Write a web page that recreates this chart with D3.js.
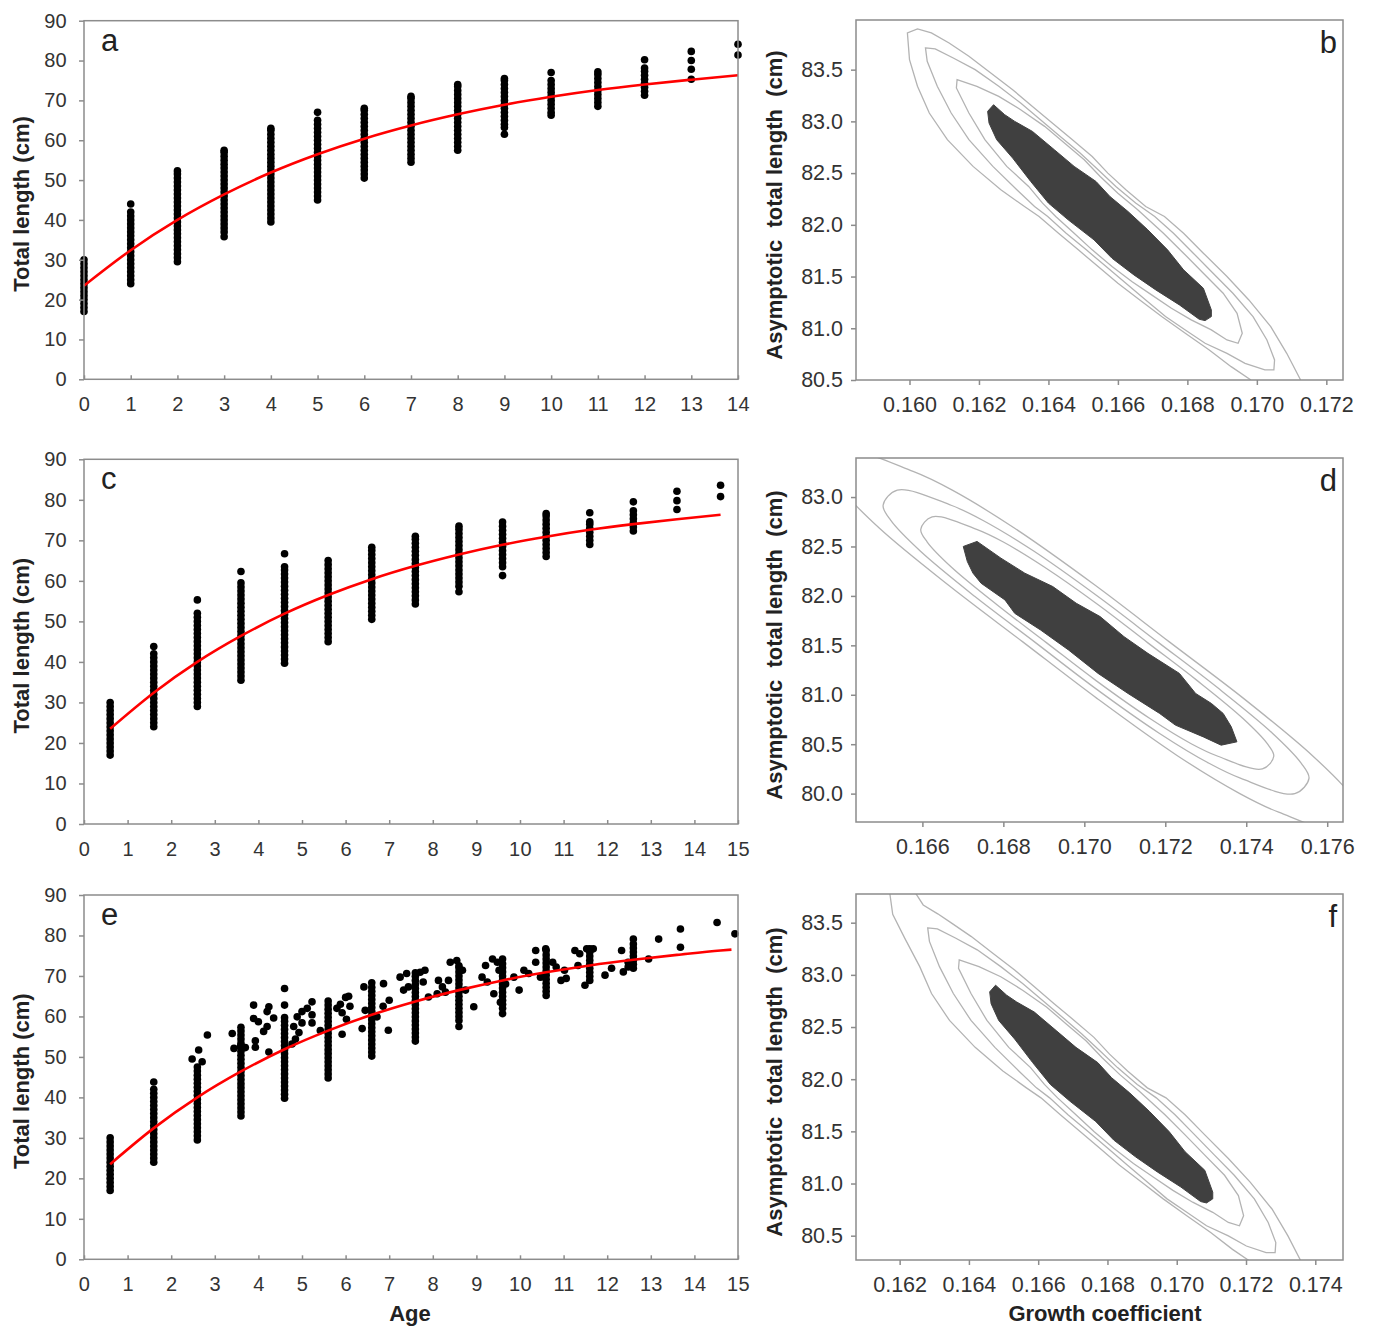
<!doctype html>
<html>
<head>
<meta charset="utf-8">
<title>growth curves and contours</title>
<script src="https://d3js.org/d3.v7.min.js"></script>
<style>
  body { margin:0; background:#fff; }
  svg { font-family:"Liberation Sans", Arial, sans-serif; }
  .frame { fill:none; stroke:#8c8c8c; stroke-width:1.5px; }
  .ax .domain { stroke:none; }
  .ax line { stroke:#8c8c8c; stroke-width:1.5px; }
  .axL text { font-size:20px; fill:#333; letter-spacing:0.3px; }
  .axR text { font-size:21.5px; fill:#333; }
  .title { font-size:22px; font-weight:bold; fill:#222; }
  .letter { font-size:31px; fill:#222; }
  .fit { fill:none; stroke:#f00; stroke-width:2.6px; }
  .cline { fill:none; stroke:#b3b3b3; stroke-width:1.3px; }
  .cfill { fill:#404040; stroke:#404040; stroke-width:1px; }
</style>
</head>
<body>
<svg id="fig" width="1373" height="1329"></svg>
<script>
// ---------- data: growth panels ----------
// lengths (cm) observed at each age column
var agesA = [0,1,2,3,4,5,6,7,8,9,10,11,12,13,14];
var lensA = [
  [17,18,19,20,21,22,23,24,25,26,27,28,29,30],
  [24,25,26,27,28,29,30,31,32,33,34,35,36,37,38,39,40,41,42,44],
  [29.5,30.5,31.5,32.5,33.5,34.5,35.5,36.5,37.5,38.5,39.5,40.5,41.5,42.5,43.5,44.5,45.5,46.5,47.5,48.5,49.5,50.5,51.5,52.3],
  [35.8,37,38,39,40,41,42,43,44,45,46,47,48,49,50,51,52,53,54,55,56,57,57.5],
  [39.5,40.5,41.5,42.5,43.5,44.5,45.5,46.5,47.5,48.5,49.5,50.5,51.5,52.5,53.5,54.5,55.5,56.5,57.5,58.5,59.5,60.5,61.5,62.5,63],
  [45,46,47,48,49,50,51,52,53,54,55,56,57,58,59,60,61,62,63,64,65,67],
  [50.5,51.5,52.5,53.5,54.5,55.5,56.5,57.5,58.5,59.5,60.5,61.5,62.5,63.5,64.5,65.5,66.5,67.5,68],
  [54.5,55.5,56.5,57.5,58.5,59.5,60.5,61.5,62.5,63.5,64.5,65.5,66.5,67.5,68.5,69.5,70.5,71],
  [57.5,58.5,59.5,60.5,61.5,62.5,63.5,64.5,65.5,66.5,67.5,68.5,69.5,70.5,71.5,72.5,73.5,74],
  [61.5,63.2,64,65,66,67,68,69,70,71,72,73,74,75,75.5],
  [66.3,67,68,69,70,71,72,73,74,75,77],
  [68.5,69.5,70.5,71.5,72.5,73.5,74.5,75.5,76.5,77.2],
  [71.3,72.3,73.3,74.3,75.3,76.3,77.3,78.1,80.2],
  [75.3,77.8,80,82.3],
  [81.4,84.1]
];
var agesC = [0.6,1.6,2.6,3.6,4.6,5.6,6.6,7.6,8.6,9.6,10.6,11.6,12.6,13.6,14.6];
var lensC = [
  [17,18,19,20,21,22,23,24,25,26,27,28,29,30],
  [24,25,26,27,28,29,30,31,32,33,34,35,36,37,38,39,40,41,42,43.8],
  [29,30,31,32,33,34,35,36,37,38,39,40,41,42,43,44,45,46,47,48,49,50,51,52,55.3],
  [35.5,36.5,37.5,38.5,39.5,40.5,41.5,42.5,43.5,44.5,45.5,46.5,47.5,48.5,49.5,50.5,51.5,52.5,53.5,54.5,55.5,56.5,57.5,58.5,59.5,62.3],
  [39.7,40.7,41.7,42.7,43.7,44.7,45.7,46.7,47.7,48.7,49.7,50.7,51.7,52.7,53.7,54.7,55.7,56.7,57.7,58.7,59.7,60.7,61.7,62.7,63.5,66.7],
  [45,46,47,48,49,50,51,52,53,54,55,56,57,58,59,60,61,62,63,64,65],
  [50.5,51.5,52.5,53.5,54.5,55.5,56.5,57.5,58.5,59.5,60.5,61.5,62.5,63.5,64.5,65.5,66.5,67.5,68.3],
  [54.3,55.3,56.3,57.3,58.3,59.3,60.3,61.3,62.3,63.3,64.3,65.3,66.3,67.3,68.3,69.3,70.3,71],
  [57.3,58.7,59.7,60.7,61.7,62.7,63.7,64.7,65.7,66.7,67.7,68.7,69.7,70.7,71.7,72.7,73.5],
  [61.3,63.5,64.5,65.5,66.5,67.5,68.5,69.5,70.5,71.5,72.5,73.5,74.5],
  [66,67,68,69,70,71,72,73,74,75,76,76.6],
  [69,70,71,72,73,74,74.6,76.8],
  [72.3,73.3,74.3,75.3,76.3,77.3,79.5],
  [77.6,79.8,82.1],
  [80.8,83.6]
];
var agesE = [0.6,1.6,2.6,3.6,4.6,5.6,6.6,7.6,8.6,9.6,10.6,11.6,12.6];
var lensE = [
  [17,18,19,20,21,22,23,24,25,26,27,28,29,30],
  [24,25,26,27,28,29,30,31,32,33,34,35,36,37,38,39,40,41,42,43.8],
  [29.5,30.5,31.5,32.5,33.5,34.5,35.5,36.5,37.5,38.5,39.5,40.5,41.5,42.5,43.5,44.5,45.5,46.5,47.5],
  [35.4,36.4,37.4,38.4,39.4,40.4,41.4,42.4,43.4,44.4,45.4,46.4,47.4,48.4,49.4,50.4,51.4,52.4,53.4,54.4,55.4,56.4,57.3],
  [39.8,40.8,41.8,42.8,43.8,44.8,45.8,46.8,47.8,48.8,49.8,50.8,51.8,52.8,53.8,54.8,55.8,56.8,57.8,58.8,59.7,62.8,66.9],
  [44.8,45.8,46.8,47.8,48.8,49.8,50.8,51.8,52.8,53.8,54.8,55.8,56.8,57.8,58.8,59.8,60.8,61.8,62.8,63.8],
  [50.2,51.2,52.2,53.2,54.2,55.2,56.2,57.2,58.2,59.2,60.2,61.2,62.2,63.2,64.2,65.2,66.2,67.2,68.3],
  [53.9,54.9,55.9,56.9,57.9,58.9,59.9,60.9,61.9,62.9,63.9,64.9,65.9,66.9,67.9,68.9,69.9,70.8],
  [57.5,59,60,61,62,63,64,65,66,67,68,69,70,71,72,72.5],
  [60.7,62,63,64,65,66,67,68,69,70,71,72,73,74.2],
  [65.2,66.2,67.2,68.2,69.2,70.2,71.2,72.2,73.2,74.2,75.2,76.3],
  [68.9,69.9,70.9,71.9,72.9,73.9,74.9,75.9,76.7],
  [71.9,72.9,73.9,74.9,75.9,76.9,77.9,79.1]
];
// scattered observations in panel e: [age, length]
var scatterE = [
  [2.48,49.5],[2.63,51.7],[2.71,48.8],[2.83,55.4],
  [3.40,55.8],[3.44,52.1],[3.59,52.6],[3.70,52.3],
  [3.89,62.8],[3.89,59.5],[4.00,58.7],[3.93,54.0],[3.93,52.4],[4.20,61.2],[4.24,62.4],[4.35,59.6],[4.20,57.5],[4.24,51.2],[4.12,56.3],
  [4.81,57.5],[4.89,59.9],[5.00,61.2],[5.12,62.0],[5.23,63.6],[5.23,60.4],[5.23,58.4],[5.00,58.4],[4.93,56.0],[4.85,54.4],[4.77,53.2],[5.42,56.5],
  [5.80,62.0],[5.88,63.0],[6.00,64.7],[6.07,65.0],[5.92,60.9],[5.92,55.6],[6.02,59.3],[6.10,62.5],
  [6.42,67.3],[6.38,57.0],[6.45,61.5],[6.72,59.9],
  [6.87,68.1],[6.98,56.6],[6.86,62.5],[7.00,64.0],
  [7.25,69.7],[7.33,66.5],[7.40,70.6],[7.71,70.9],[7.82,71.4],[7.78,68.5],[7.90,64.8],[8.13,68.9],[8.10,65.6],[8.29,66.0],[8.36,68.9],[8.40,73.4],[8.22,67.3],[7.44,67.3],
  [8.75,66.5],[8.94,62.4],[8.68,71.4],[8.55,73.8],
  [9.13,69.7],[9.25,68.5],[9.21,72.6],[9.37,74.2],[9.48,73.4],[9.52,71.4],[9.40,65.6],[9.55,63.5],
  [9.67,68.0],[9.86,69.7],[9.98,66.5],[10.09,71.4],[10.20,70.6],[10.36,76.3],[10.36,73.4],[10.59,76.7],[10.47,69.7],
  [10.75,73.4],[10.83,72.2],[10.94,68.9],[11.02,71.4],[11.06,69.4],
  [11.26,76.3],[11.37,75.5],[11.53,76.7],[11.68,76.7],[11.49,67.7],[11.33,72.6],
  [11.95,70.2],[12.10,71.9],[12.33,76.3],[12.37,71.0],[12.48,73.4],[12.48,72.2],
  [12.95,74.2],[13.18,79.1],[13.68,81.6],[13.68,77.1],[14.52,83.2],[14.93,80.4]
];
// fitted growth curve
var fitAgesA = [0,1,2,3,4,5,6,7,8,9,10,11,12,13,14];
var fitAgesC = [0.6,1.6,2.6,3.6,4.6,5.6,6.6,7.6,8.6,9.6,10.6,11.6,12.6,13.6,14.6];
var fitAgesE = [0.6,1.6,2.6,3.6,4.6,5.6,6.6,7.6,8.6,9.6,10.6,11.6,12.6,13.6,14.6,14.85];
var fitLens  = [23.5,32.4,40.0,46.4,51.9,56.5,60.4,63.7,66.5,68.9,70.9,72.6,74.0,75.2,76.3,76.5];

// ---------- data: contour panels [growth coefficient, asymptotic length] ----------
var xTicksB = [0.160,0.162,0.164,0.166,0.168,0.170,0.172];
var yTicksB = [80.5,81.0,81.5,82.0,82.5,83.0,83.5];
var xTicksD = [0.166,0.168,0.170,0.172,0.174,0.176];
var yTicksD = [80.0,80.5,81.0,81.5,82.0,82.5,83.0];
var xTicksF = [0.162,0.164,0.166,0.168,0.170,0.172,0.174];
var yTicksF = [80.5,81.0,81.5,82.0,82.5,83.0,83.5];

var fillB = [[.16242,83.161],[.16274,83.065],[.16303,83.000],[.16354,82.903],[.16417,82.726],[.16474,82.565],[.16537,82.419],[.16577,82.274],[.16629,82.129],[.16686,81.952],[.16743,81.758],[.16789,81.565],[.16846,81.387],[.16869,81.177],[.16869,81.113],[.16851,81.074],[.16834,81.087],[.16777,81.226],[.16709,81.371],[.16646,81.516],[.16583,81.677],[.16531,81.855],[.16457,82.048],[.16400,82.210],[.16349,82.419],[.16297,82.645],[.16251,82.823],[.16229,82.984],[.16225,83.097]];
var innerB = [[.16137,83.403],[.16194,83.339],[.16257,83.242],[.16320,83.113],[.16389,82.952],[.16446,82.790],[.16503,82.629],[.16549,82.468],[.16600,82.306],[.16657,82.145],[.16731,81.919],[.16789,81.726],[.16846,81.532],[.16903,81.339],[.16943,81.145],[.16958,80.952],[.16946,80.855],[.16914,80.887],[.16869,80.984],[.16811,81.081],[.16754,81.194],[.16697,81.323],[.16640,81.452],[.16583,81.597],[.16526,81.758],[.16474,81.919],[.16421,82.081],[.16383,82.210],[.16343,82.371],[.16280,82.565],[.16217,82.823],[.16171,83.081],[.16135,83.323]];
var midB = [[.16046,83.710],[.16074,83.700],[.16126,83.613],[.16189,83.500],[.16257,83.339],[.16320,83.177],[.16377,83.016],[.16434,82.855],[.16491,82.694],[.16543,82.532],[.16594,82.371],[.16651,82.210],[.16706,82.081],[.16760,81.919],[.16817,81.726],[.16874,81.532],[.16931,81.339],[.16989,81.113],[.17029,80.887],[.17051,80.694],[.17049,80.597],[.17023,80.597],[.16966,80.661],[.16914,80.758],[.16851,80.855],[.16794,80.984],[.16737,81.113],[.16680,81.274],[.16623,81.435],[.16566,81.597],[.16509,81.758],[.16451,81.919],[.16398,82.081],[.16360,82.177],[.16309,82.339],[.16240,82.565],[.16171,82.823],[.16120,83.081],[.16080,83.339],[.16051,83.581]];
var outerB = [[.16983,80.500],[.16926,80.629],[.16863,80.790],[.16794,80.952],[.16726,81.113],[.16663,81.274],[.16600,81.435],[.16543,81.597],[.16486,81.758],[.16429,81.919],[.16373,82.081],[.16331,82.177],[.16263,82.339],[.16183,82.565],[.16109,82.823],[.16057,83.081],[.16023,83.339],[.16000,83.597],[.15994,83.855],[.16023,83.894],[.16063,83.855],[.16114,83.758],[.16171,83.629],[.16234,83.468],[.16297,83.306],[.16354,83.145],[.16411,82.984],[.16469,82.823],[.16526,82.661],[.16571,82.500],[.16623,82.339],[.16680,82.177],[.16734,82.081],[.16789,81.919],[.16846,81.726],[.16914,81.500],[.16977,81.274],[.17040,81.016],[.17086,80.758],[.17126,80.500]];

var fillD = [[.16735,82.551],[.16794,82.382],[.16853,82.230],[.16922,82.095],[.16980,81.926],[.17039,81.791],[.17098,81.588],[.17157,81.419],[.17235,81.216],[.17275,81.013],[.17314,80.912],[.17343,80.811],[.17363,80.676],[.17377,80.524],[.17338,80.490],[.17294,80.574],[.17225,80.693],[.17186,80.811],[.17108,81.013],[.17034,81.216],[.16961,81.453],[.16892,81.655],[.16828,81.824],[.16804,81.959],[.16745,82.128],[.16725,82.230],[.16711,82.348],[.16701,82.500]];
var innerD = [[.16624,82.800],[.16734,82.673],[.16800,82.545],[.16902,82.290],[.17035,81.908],[.17157,81.525],[.17279,81.143],[.17392,80.760],[.17452,80.505],[.17468,80.378],[.17440,80.250],[.17330,80.378],[.17264,80.505],[.17162,80.760],[.17029,81.143],[.16907,81.525],[.16785,81.908],[.16672,82.290],[.16612,82.545],[.16596,82.673]];
var midD = [[.16538,83.070],[.16671,82.917],[.16750,82.763],[.16874,82.456],[.17033,81.996],[.17181,81.535],[.17328,81.075],[.17464,80.614],[.17536,80.307],[.17555,80.154],[.17520,80.000],[.17387,80.154],[.17308,80.307],[.17184,80.614],[.17024,81.075],[.16877,81.535],[.16729,81.996],[.16594,82.456],[.16522,82.763],[.16503,82.917]];
var outerD = [[.16416,83.450],[.16577,83.259],[.16675,83.067],[.16828,82.684],[.17026,82.110],[.17210,81.535],[.17394,80.961],[.17563,80.386],[.17655,80.003],[.17680,79.812],[.17642,79.620],[.17480,79.812],[.17383,80.003],[.17229,80.386],[.17032,80.961],[.16848,81.535],[.16664,82.110],[.16494,82.684],[.16403,83.067],[.16377,83.259]];

var fillF = [[.16477,82.901],[.16509,82.805],[.16538,82.740],[.16589,82.643],[.16652,82.466],[.16709,82.305],[.16772,82.159],[.16812,82.014],[.16864,81.869],[.16921,81.692],[.16978,81.498],[.17024,81.305],[.17081,81.127],[.17104,80.917],[.17104,80.853],[.17086,80.814],[.17069,80.827],[.17012,80.966],[.16944,81.111],[.16881,81.256],[.16818,81.417],[.16766,81.595],[.16692,81.788],[.16635,81.950],[.16584,82.159],[.16532,82.385],[.16486,82.563],[.16464,82.724],[.16460,82.837]];
var innerF = [[.16372,83.143],[.16429,83.079],[.16492,82.982],[.16555,82.853],[.16624,82.692],[.16681,82.530],[.16738,82.369],[.16784,82.208],[.16835,82.046],[.16892,81.885],[.16966,81.659],[.17024,81.466],[.17081,81.272],[.17138,81.079],[.17178,80.885],[.17193,80.692],[.17181,80.595],[.17149,80.627],[.17104,80.724],[.17046,80.821],[.16989,80.934],[.16932,81.063],[.16875,81.192],[.16818,81.337],[.16761,81.498],[.16709,81.659],[.16656,81.821],[.16618,81.950],[.16578,82.111],[.16515,82.305],[.16452,82.563],[.16406,82.821],[.16370,83.063]];
var midF = [[.16281,83.450],[.16309,83.440],[.16361,83.353],[.16424,83.240],[.16492,83.079],[.16555,82.917],[.16612,82.756],[.16669,82.595],[.16726,82.434],[.16778,82.272],[.16829,82.111],[.16886,81.950],[.16941,81.821],[.16995,81.659],[.17052,81.466],[.17109,81.272],[.17166,81.079],[.17224,80.853],[.17264,80.627],[.17286,80.434],[.17284,80.337],[.17258,80.337],[.17201,80.401],[.17149,80.498],[.17086,80.595],[.17029,80.724],[.16972,80.853],[.16915,81.014],[.16858,81.175],[.16801,81.337],[.16744,81.498],[.16686,81.659],[.16633,81.821],[.16595,81.917],[.16544,82.079],[.16475,82.305],[.16406,82.563],[.16355,82.821],[.16315,83.079],[.16286,83.321]];
var outerF = [[.17218,80.240],[.17161,80.369],[.17098,80.530],[.17029,80.692],[.16961,80.853],[.16898,81.014],[.16835,81.175],[.16778,81.337],[.16721,81.498],[.16664,81.659],[.16608,81.821],[.16566,81.917],[.16498,82.079],[.16418,82.305],[.16344,82.563],[.16292,82.821],[.16258,83.079],[.16215,83.350],[.16180,83.580],[.16170,83.820],[.16235,83.840],[.16268,83.670],[.16310,83.585],[.16349,83.498],[.16406,83.369],[.16469,83.208],[.16532,83.046],[.16589,82.885],[.16646,82.724],[.16704,82.563],[.16761,82.401],[.16806,82.240],[.16858,82.079],[.16915,81.917],[.16969,81.821],[.17024,81.659],[.17081,81.466],[.17149,81.240],[.17212,81.014],[.17275,80.756],[.17321,80.498],[.17361,80.240]];

// ---------- layout ----------
var svg = d3.select("#fig");
var L0 = 84, L1 = 738, R0 = 856, R1 = 1343;
var rowsL = [[20.7,379.3],[459.3,824],[895,1259.3]];
var rowsR = [[20,380],[458,822],[894,1260]];

function growthPanel(row, xmax, ages, lens, scatter, fitAges, letter) {
  var t = rowsL[row][0], b = rowsL[row][1];
  var x = d3.scaleLinear().domain([0, xmax]).range([L0, L1]);
  var y = d3.scaleLinear().domain([0, 90]).range([b, t]);
  var g = svg.append("g");

  var pts = [];
  ages.forEach(function(a, i) { lens[i].forEach(function(v) { pts.push([a, v]); }); });
  scatter.forEach(function(p) { pts.push(p); });
  g.selectAll("circle").data(pts).join("circle")
    .attr("cx", function(d) { return x(d[0]); })
    .attr("cy", function(d) { return y(d[1]); })
    .attr("r", 3.8)
    .attr("fill", "#000");

  var fit = d3.zip(fitAges, fitLens.slice(0, fitAges.length));
  g.append("path").datum(fit).attr("class", "fit")
    .attr("d", d3.line().x(function(d) { return x(d[0]); }).y(function(d) { return y(d[1]); }).curve(d3.curveMonotoneX));

  g.append("rect").attr("class", "frame")
    .attr("x", L0).attr("y", t).attr("width", L1 - L0).attr("height", b - t);

  g.append("g").attr("class", "ax axL").attr("transform", "translate(0," + b + ")")
    .call(d3.axisBottom(x).ticks(xmax).tickSize(-4).tickSizeOuter(0).tickPadding(18));
  g.append("g").attr("class", "ax axL").attr("transform", "translate(" + L0 + ",0)")
    .call(d3.axisLeft(y).ticks(9).tickSize(5).tickSizeOuter(0).tickPadding(12));

  g.append("text").attr("class", "title")
    .attr("transform", "translate(29," + ((t + b) / 2 + 4) + ") rotate(-90)")
    .attr("text-anchor", "middle").text("Total length (cm)");
  g.append("text").attr("class", "letter").attr("x", 101).attr("y", t + 30).text(letter);
}

function contourPanel(row, xdom, ydom, xticks, yticks, fill, inner, mid, outer, outerClosed, smooth, letter) {
  var t = rowsR[row][0], b = rowsR[row][1];
  var x = d3.scaleLinear().domain(xdom).range([R0, R1]);
  var y = d3.scaleLinear().domain(ydom).range([b, t]);
  var g = svg.append("g");
  var cid = "clip" + row;
  g.append("clipPath").attr("id", cid).append("rect")
    .attr("x", R0).attr("y", t).attr("width", R1 - R0).attr("height", b - t);
  var body = g.append("g").attr("clip-path", "url(#" + cid + ")");

  var closed = d3.line().x(function(d) { return x(d[0]); }).y(function(d) { return y(d[1]); })
    .curve(smooth ? d3.curveCatmullRomClosed.alpha(0.5) : d3.curveLinearClosed);
  var open = d3.line().x(function(d) { return x(d[0]); }).y(function(d) { return y(d[1]); })
    .curve(d3.curveLinear);

  body.append("path").datum(outer).attr("class", "cline").attr("d", outerClosed ? closed : open);
  body.append("path").datum(mid).attr("class", "cline").attr("d", closed);
  body.append("path").datum(inner).attr("class", "cline").attr("d", closed);
  body.append("path").datum(fill).attr("class", "cfill")
    .attr("d", d3.line().x(function(d) { return x(d[0]); }).y(function(d) { return y(d[1]); }).curve(d3.curveLinearClosed));

  g.append("rect").attr("class", "frame")
    .attr("x", R0).attr("y", t).attr("width", R1 - R0).attr("height", b - t);

  g.append("g").attr("class", "ax axR").attr("transform", "translate(0," + b + ")")
    .call(d3.axisBottom(x).tickValues(xticks).tickFormat(d3.format(".3f")).tickSize(5).tickSizeOuter(0).tickPadding(12));
  g.append("g").attr("class", "ax axR").attr("transform", "translate(" + R0 + ",0)")
    .call(d3.axisLeft(y).tickValues(yticks).tickFormat(d3.format(".1f")).tickSize(5).tickSizeOuter(0).tickPadding(8));

  g.append("text").attr("class", "title")
    .attr("transform", "translate(782," + ((t + b) / 2 + 5) + ") rotate(-90)")
    .attr("text-anchor", "middle").text("Asymptotic\u00a0 total length\u00a0 (cm)");
  g.append("text").attr("class", "letter").attr("x", 1337).attr("y", t + 33)
    .attr("text-anchor", "end").text(letter);
}

growthPanel(0, 14, agesA, lensA, [], fitAgesA, "a");
growthPanel(1, 15, agesC, lensC, [], fitAgesC, "c");
growthPanel(2, 15, agesE, lensE, scatterE, fitAgesE, "e");

contourPanel(0, [0.15846, 0.17248], [80.5, 83.98], xTicksB, yTicksB, fillB, innerB, midB, outerB, false, false, "b");
contourPanel(1, [0.16436, 0.17639], [79.713, 83.395], xTicksD, yTicksD, fillD, innerD, midD, outerD, true, true, "d");
contourPanel(2, [0.16074, 0.17480], [80.267, 83.775], xTicksF, yTicksF, fillF, innerF, midF, outerF, false, false, "f");

svg.append("text").attr("class", "title").attr("x", 410).attr("y", 1321)
  .attr("text-anchor", "middle").text("Age");
svg.append("text").attr("class", "title").attr("x", 1105).attr("y", 1321)
  .attr("text-anchor", "middle").text("Growth coefficient");
</script>
</body>
</html>
